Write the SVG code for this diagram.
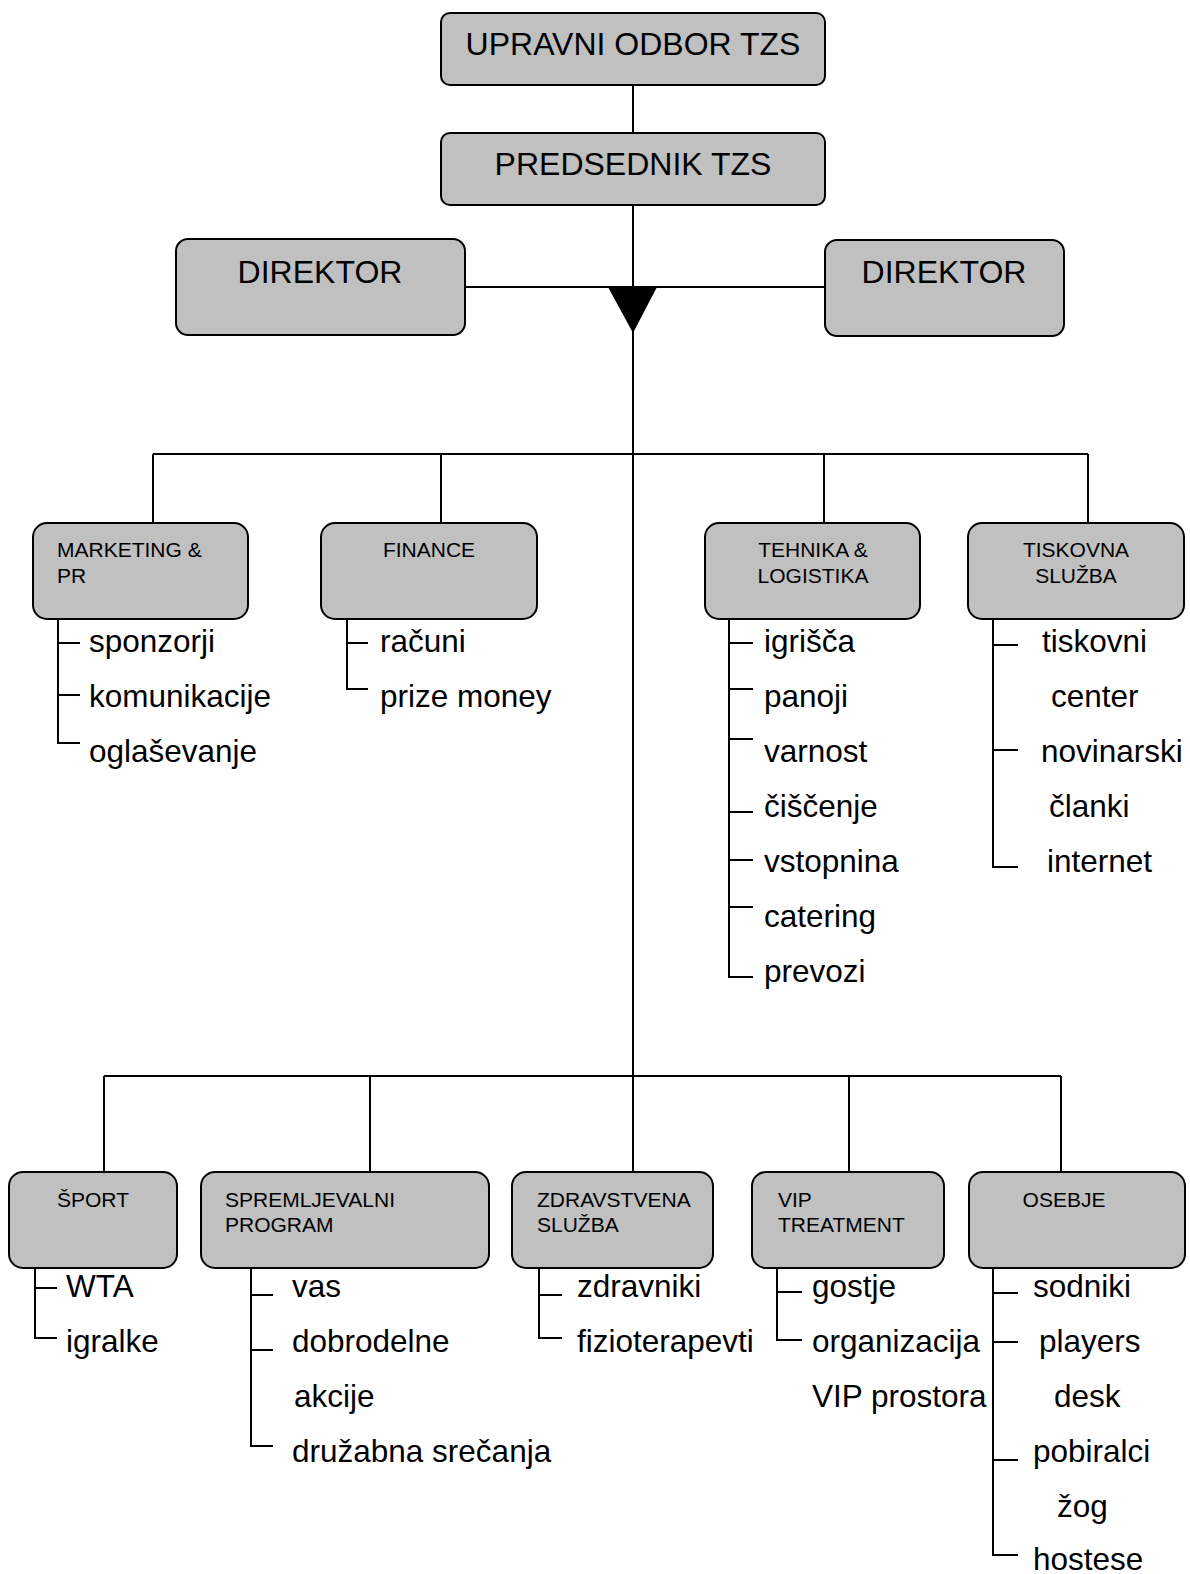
<svg xmlns="http://www.w3.org/2000/svg" width="1190" height="1574" viewBox="0 0 1190 1574">
<style>
.box{fill:#c0c0c0;stroke:#000;stroke-width:2}
.ln{fill:none;stroke:#000;stroke-width:2}
.t32{font-family:"Liberation Sans",Arial,sans-serif;font-size:32px;fill:#000}
.lb{font-family:"Liberation Sans",Arial,sans-serif;font-size:21px;fill:#000}
.it{font-family:"Liberation Sans",Arial,sans-serif;font-size:31.5px;fill:#000}
.c{text-anchor:middle}
</style>
<g id="connectors">
<path class="ln" d="M633 85V133M633 205V1172M465 287H825M153 454H1088M153 454V523M441 454V523M824 454V523M1088 454V523M104 1076H1061M104 1076V1172M370 1076V1172M849 1076V1172M1061 1076V1172"/>
<polygon points="608,287 657,287 633,333" fill="#000"/>
<path class="ln" d="M58 619V743H80M58 643H80M58 695H80"/>
<path class="ln" d="M347 619V689H368M347 643H368"/>
<path class="ln" d="M729 619V977H753M729 643H753M729 689H753M729 739H753M729 812H753M729 860H753M729 907H753"/>
<path class="ln" d="M993 619V867H1018M993 645H1018M993 750H1018"/>
<path class="ln" d="M35 1268V1338H57M35 1288H57"/>
<path class="ln" d="M251 1268V1446H273M251 1295H273M251 1350H273"/>
<path class="ln" d="M539 1268V1338H562M539 1295H562"/>
<path class="ln" d="M777 1268V1340H802M777 1292H802"/>
<path class="ln" d="M993 1268V1555H1018M993 1293H1018M993 1342H1018M993 1460H1018"/>
</g>
<g id="upravni"><rect class="box" x="441" y="13" width="384" height="72" rx="9"/><text class="t32 c" x="633" y="55">UPRAVNI ODBOR TZS</text></g>
<g id="predsednik"><rect class="box" x="441" y="133" width="384" height="72" rx="9"/><text class="t32 c" x="633" y="175">PREDSEDNIK TZS</text></g>
<g id="direktor1"><rect class="box" x="176" y="239" width="289" height="96" rx="12"/><text class="t32 c" x="320" y="283">DIREKTOR</text></g>
<g id="direktor2"><rect class="box" x="825" y="240" width="239" height="96" rx="12"/><text class="t32 c" x="944" y="283">DIREKTOR</text></g>

<g id="marketing"><rect class="box" x="33" y="523" width="215" height="96" rx="14"/><text class="lb" x="57" y="557">MARKETING &amp;</text><text class="lb" x="57" y="583">PR</text>
<text class="it" x="89" y="652">sponzorji</text><text class="it" x="89" y="707">komunikacije</text><text class="it" x="89" y="762">oglaševanje</text></g>
<g id="finance"><rect class="box" x="321" y="523" width="216" height="96" rx="14"/><text class="lb c" x="429" y="557">FINANCE</text>
<text class="it" x="380" y="652">računi</text><text class="it" x="380" y="707">prize money</text></g>
<g id="tehnika"><rect class="box" x="705" y="523" width="215" height="96" rx="14"/><text class="lb c" x="813" y="557">TEHNIKA &amp;</text><text class="lb c" x="813" y="583">LOGISTIKA</text>
<text class="it" x="764" y="652">igrišča</text><text class="it" x="764" y="707">panoji</text><text class="it" x="764" y="762">varnost</text><text class="it" x="764" y="817">čiščenje</text><text class="it" x="764" y="872">vstopnina</text><text class="it" x="764" y="927">catering</text><text class="it" x="764" y="982">prevozi</text></g>
<g id="tiskovna"><rect class="box" x="968" y="523" width="216" height="96" rx="14"/><text class="lb c" x="1076" y="557">TISKOVNA</text><text class="lb c" x="1076" y="583">SLUŽBA</text>
<text class="it" x="1042" y="652">tiskovni</text><text class="it" x="1051" y="707">center</text><text class="it" x="1041" y="762">novinarski</text><text class="it" x="1049" y="817">članki</text><text class="it" x="1047" y="872">internet</text></g>

<g id="sport"><rect class="box" x="9" y="1172" width="168" height="96" rx="14"/><text class="lb c" x="93" y="1207">ŠPORT</text>
<text class="it" x="66" y="1297">WTA</text><text class="it" x="66" y="1352">igralke</text></g>
<g id="spremljevalni"><rect class="box" x="201" y="1172" width="288" height="96" rx="14"/><text class="lb" x="225" y="1207">SPREMLJEVALNI</text><text class="lb" x="225" y="1232">PROGRAM</text>
<text class="it" x="292" y="1297">vas</text><text class="it" x="292" y="1352">dobrodelne</text><text class="it" x="294" y="1407">akcije</text><text class="it" x="292" y="1462">družabna srečanja</text></g>
<g id="zdravstvena"><rect class="box" x="512" y="1172" width="201" height="96" rx="14"/><text class="lb" x="537" y="1207">ZDRAVSTVENA</text><text class="lb" x="537" y="1232">SLUŽBA</text>
<text class="it" x="577" y="1297">zdravniki</text><text class="it" x="577" y="1352">fizioterapevti</text></g>
<g id="vip"><rect class="box" x="752" y="1172" width="192" height="96" rx="14"/><text class="lb" x="778" y="1207">VIP</text><text class="lb" x="778" y="1232">TREATMENT</text>
<text class="it" x="812" y="1297">gostje</text><text class="it" x="812" y="1352">organizacija</text><text class="it" x="812" y="1407">VIP prostora</text></g>
<g id="osebje"><rect class="box" x="969" y="1172" width="216" height="96" rx="14"/><text class="lb c" x="1064" y="1207">OSEBJE</text>
<text class="it" x="1033" y="1297">sodniki</text><text class="it" x="1039" y="1352">players</text><text class="it" x="1054" y="1407">desk</text><text class="it" x="1033" y="1462">pobiralci</text><text class="it" x="1057" y="1517">žog</text><text class="it" x="1033" y="1570">hostese</text></g>
</svg>
